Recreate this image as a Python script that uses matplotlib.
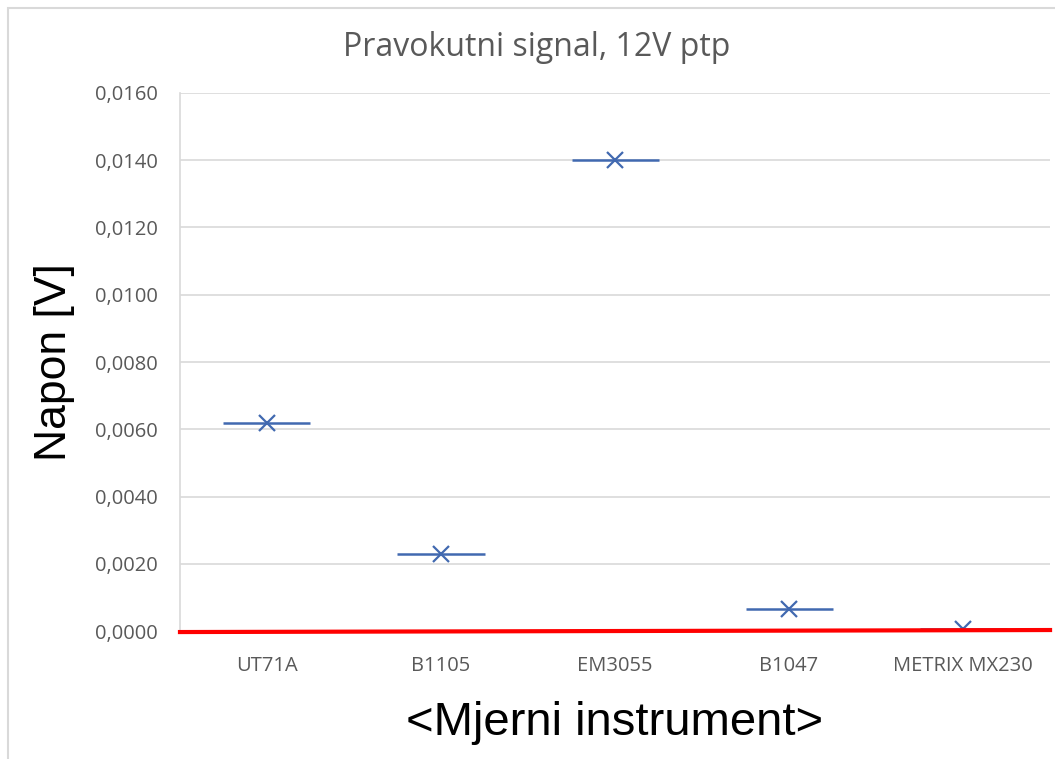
import matplotlib.pyplot as plt
from matplotlib.patches import Rectangle
from matplotlib.ticker import FuncFormatter

# data
instruments = ["UT71A", "B1105", "EM3055", "B1047", "METRIX MX230"]
napon = [0.0062, 0.0023, 0.0140, 0.00065, 0.00005]
x_err = [0.25, 0.25, 0.25, 0.25, 0.25]
ref_x = [0.5, 5.5]
ref_y = [-0.00003, 0.00003]
y_ticks = [0.0, 0.002, 0.004, 0.006, 0.008, 0.010, 0.012, 0.014, 0.016]

plt.rcParams['font.family'] = ['Open Sans', 'DejaVu Sans']

fig = plt.figure(figsize=(10.55, 7.59), dpi=100)
ax = fig.add_axes([0.1706, 0.1686, 0.8247, 0.7089])

# outer chart border
fig.patches.append(Rectangle((8 / 1055, -0.05), 1.1, 1 - 8 / 759 + 0.05,
                             transform=fig.transFigure, fill=False,
                             edgecolor="#d9d9d9", linewidth=1.5))

pos = list(range(1, len(instruments) + 1))
ax.errorbar(pos, napon, xerr=x_err, fmt="x", color="#4169b0", ecolor="#4169b0",
            markersize=11, markeredgewidth=1.6, elinewidth=1.8, capsize=0, zorder=3)
ax.plot(ref_x, ref_y, color="red", linewidth=3, zorder=4, clip_on=False)

ax.set_xlim(0.5, 5.5)
ax.set_ylim(0, 0.016)
ax.set_yticks(y_ticks)
ax.yaxis.set_major_formatter(FuncFormatter(lambda v, p: f"{v:.4f}".replace(".", ",")))
ax.set_xticks(pos)
ax.set_xticklabels(instruments)
ax.tick_params(axis="both", length=0, labelsize=14.5, colors="#595959")
ax.tick_params(axis="x", pad=18)
ax.tick_params(axis="y", pad=16)

ax.grid(axis="y", color="#d9d9d9", linewidth=1.2)
ax.set_axisbelow(True)
for s in ["top", "right", "bottom"]:
    ax.spines[s].set_visible(False)
ax.spines["left"].set_color("#d9d9d9")
ax.spines["left"].set_linewidth(1.2)

fig.text(537 / 1055, 1 - 47 / 759, "Pravokutni signal, 12V ptp", fontsize=23,
         color="#595959", ha="center", va="center")
ax.set_ylabel("Napon [V]", fontsize=32, family="Liberation Sans", labelpad=14)
ax.set_xlabel("<Mjerni instrument>", fontsize=34, family="Liberation Sans", labelpad=18)

fig.savefig("out.png", dpi=100)
